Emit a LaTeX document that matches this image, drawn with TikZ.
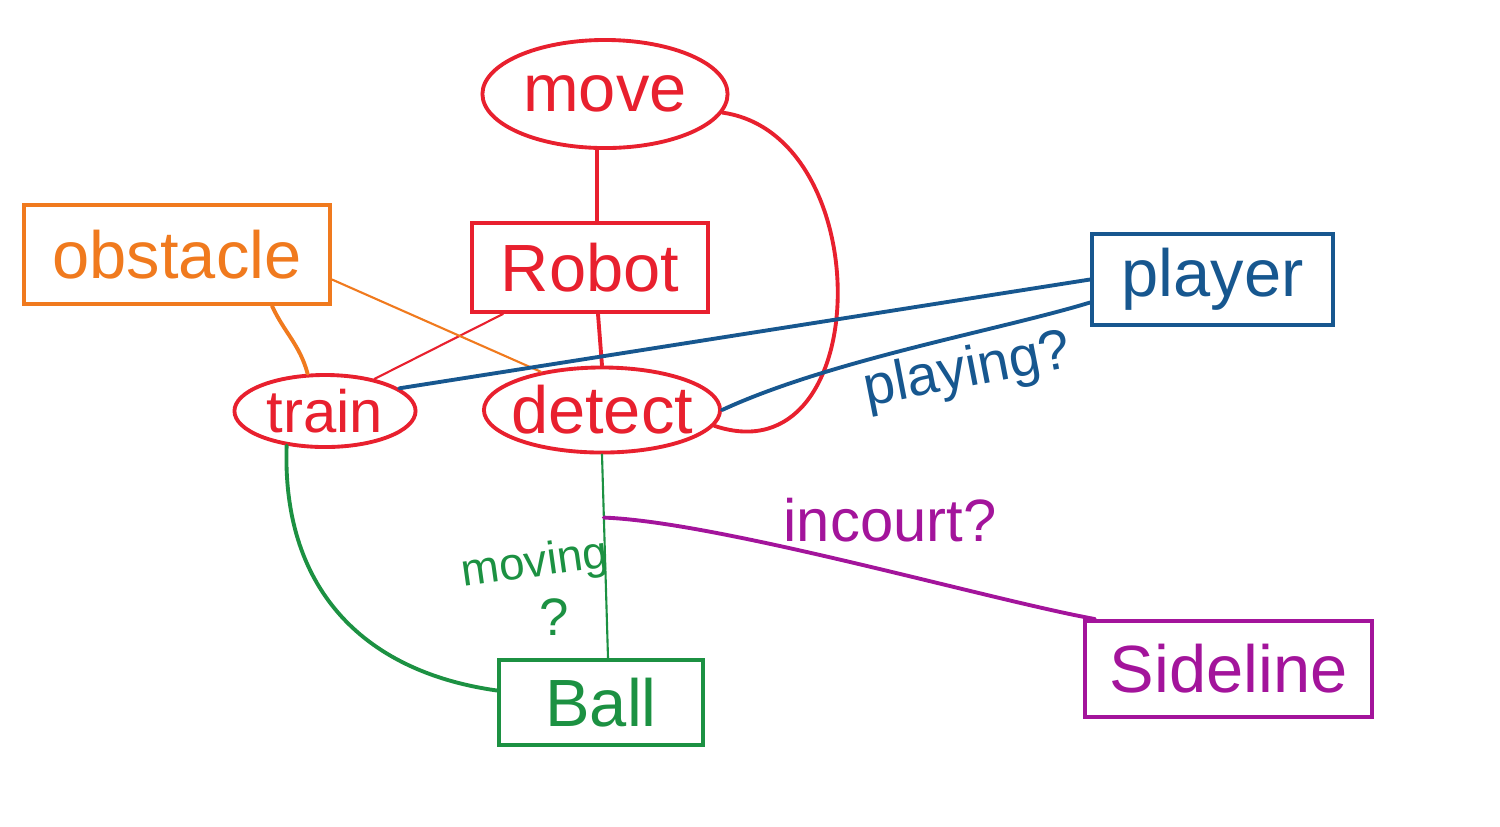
\documentclass[tikz,border=0pt]{standalone}
\usepackage{fontspec}
\setmainfont{Liberation Sans}
\usetikzlibrary{shapes.geometric,calc}
\definecolor{cred}{HTML}{E8202E}
\definecolor{corange}{HTML}{F07A1E}
\definecolor{cblue}{HTML}{17578F}
\definecolor{cgreen}{HTML}{1C9142}
\definecolor{cpurple}{HTML}{A3149B}
\tikzset{
  boxnode/.style={draw, rectangle, line width=1.1pt, inner sep=0pt, font=\fontsize{19}{22}\selectfont},
  ellnode/.style={draw, ellipse, line width=1.1pt, inner sep=0pt, font=\fontsize{19}{22}\selectfont},
  thick link/.style={line width=1.1pt, line cap=round},
  thin link/.style={line width=0.6pt, line cap=round},
  edgelabel/.style={inner sep=0pt}
}
\begin{document}
\begin{tikzpicture}[x=0.01cm,y=-0.01cm]
\useasboundingbox (0,0) rectangle (1500,826);
% nodes
\node[ellnode, cred, minimum width=2.45cm, minimum height=1.08cm] (move) at (605,94) {\makebox[0pt]{move}};
\node[boxnode, cred, minimum width=2.36cm, minimum height=0.89cm] (Robot) at (590,267.5) {Robot};
\node[boxnode, corange, minimum width=3.06cm, minimum height=0.99cm] (obstacle) at (177,254.5) {obstacle};
\node[boxnode, cblue, minimum width=2.41cm, minimum height=0.91cm] (player) at (1212.5,279.5) {player};
\node[ellnode, cred, minimum width=1.81cm, minimum height=0.72cm, font=\fontsize{17}{20}\selectfont] (train) at (325,411) {\makebox[0pt]{train}};
\node[ellnode, cred, minimum width=2.36cm, minimum height=0.85cm] (detect) at (602,410) {\makebox[0pt]{detect}};
\node[boxnode, cgreen, minimum width=2.04cm, minimum height=0.85cm] (Ball) at (601,702.5) {Ball};
\node[boxnode, cpurple, minimum width=2.87cm, minimum height=0.96cm] (Sideline) at (1228.5,669) {Sideline};
% red links
\draw[thick link, cred] ($(move.south)+(-8,0)$) -- ($(Robot.north)+(7,0)$);
\draw[thick link, cred] ($(Robot.south)+(8,0)$) -- (detect.north);
\draw[thin link, cred] ($(Robot.south west)+(33,0)$) -- (train.33);
\draw[thick link, cred] (move.-9) .. controls (880,135) and (875,480) .. (detect.-8);
% orange links
\draw[thick link, corange] ($(obstacle.south)+(95,0)$) to[out=-65,in=105] (train.115);
\draw[thin link, corange] ($(obstacle.east)+(0,25)$) -- (detect.148);
% blue links
\draw[thick link, cblue] (player.west) -- (train.17);
\draw[thick link, cblue] ($(player.west)+(0,23)$) .. controls (1000,330) and (830,360) .. (detect.east);
\node[edgelabel, cblue, rotate=11, font=\fontsize{16}{19}\selectfont] (lplay) at (968,372) {playing?};
% green links
\draw[thin link, cgreen] (detect.south) -- ($(Ball.north)+(7,0)$) coordinate[pos=0.31] (br);
\draw[thick link, cgreen] (train.222) to[out=-92,in=172, looseness=1.1] ($(Ball.west)+(0,-12)$);
\node[edgelabel, cgreen, rotate=8, font=\fontsize{13}{15}\selectfont] (lmov) at (535,565) {moving};
\node[edgelabel, cgreen, font=\fontsize{15}{17}\selectfont] (lq) at (554,617) {?};
% purple link
\draw[thick link, cpurple] (br) .. controls (720,522) and (990,600) .. ($(Sideline.north west)+(12,0)$);
\node[edgelabel, cpurple, font=\fontsize{17}{20}\selectfont] (lin) at (890,520) {incourt?};
\end{tikzpicture}
\end{document}
